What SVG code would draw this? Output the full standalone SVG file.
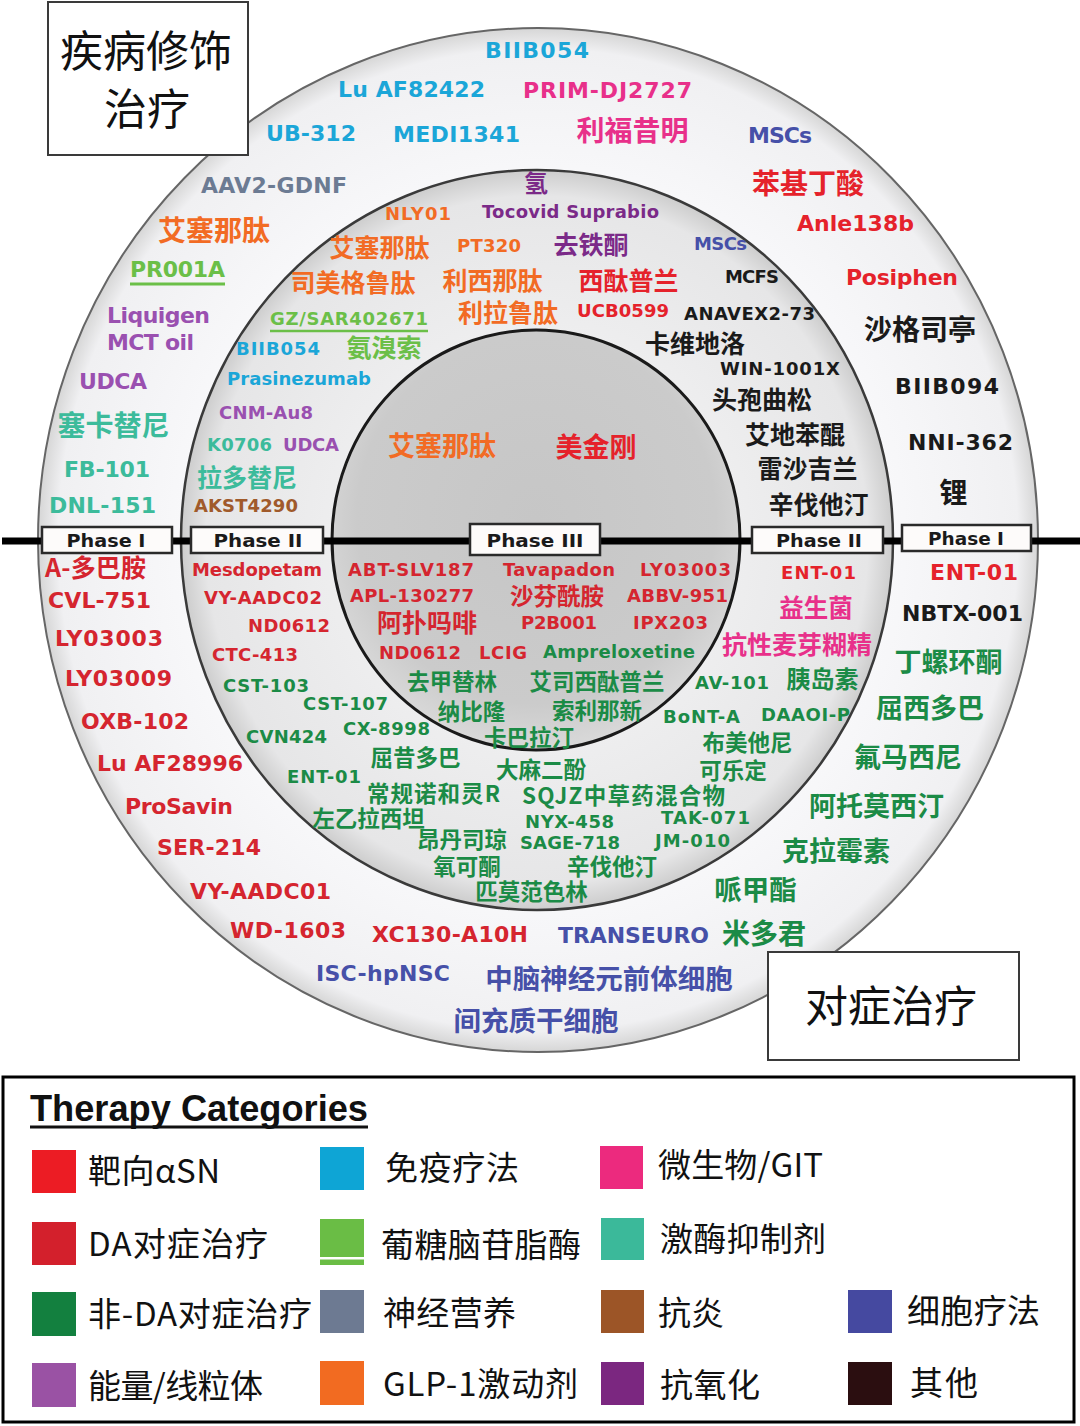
<svg xmlns="http://www.w3.org/2000/svg" width="1080" height="1426" viewBox="0 0 1080 1426">
<defs>
<style>
.l{font-family:"DejaVu Sans",Verdana,sans-serif;font-weight:bold;text-anchor:middle}
.o{font-size:22px}
.m{font-size:18px}
.c{font-family:"Noto Sans CJK SC","Noto Sans CJK JP",sans-serif;font-weight:bold;text-anchor:middle}
.s{font-size:22.5px}
.a{fill:#e5222b}.dr{fill:#d5252f}.im{fill:#1ba6d8}.mi{fill:#e8308a}.gb{fill:#6bbf48}
.ki{fill:#3cbb9b}.ng{fill:#1b8b46}.nt{fill:#6c7b93}.ai{fill:#a05a2b}.ce{fill:#4650a8}
.en{fill:#9a50b0}.gl{fill:#f26b24}.ao{fill:#7b2a88}.ot{fill:#1a1a1a}
.pb{fill:#fdfbfa;stroke:#2a2a2a;stroke-width:2.5}
.pt{font-family:"DejaVu Sans",Verdana,sans-serif;font-weight:bold;font-size:18px;fill:#1a1a1a;text-anchor:middle}
.bx{fill:#ffffff;stroke:#3a3a3a;stroke-width:2}
.bt{font-family:"Noto Sans CJK SC","Noto Sans CJK JP",sans-serif;font-size:43px;fill:#111;text-anchor:middle}
.lt{font-family:"Noto Sans CJK SC","Noto Sans CJK JP",sans-serif;font-size:33px;fill:#111}
</style>
<radialGradient id="gOuter" cx="0.5" cy="0.5" r="0.5">
<stop offset="0.7" stop-color="#f8f8fa"/>
<stop offset="0.96" stop-color="#f0f0f2"/>
<stop offset="1" stop-color="#d6d6d6"/>
</radialGradient>
<radialGradient id="gMid" cx="0.5" cy="0.5" r="0.5">
<stop offset="0.55" stop-color="#eeeeef"/>
<stop offset="0.93" stop-color="#e6e6e7"/>
<stop offset="1" stop-color="#cdcdcd"/>
</radialGradient>
<radialGradient id="gIn" cx="0.5" cy="0.45" r="0.55">
<stop offset="0" stop-color="#c6c6c6"/>
<stop offset="0.8" stop-color="#cbcbcb"/>
<stop offset="1" stop-color="#d9d9d9"/>
</radialGradient>
</defs>
<rect x="0" y="0" width="1080" height="1426" fill="#ffffff"/>

<g id="rings">
<ellipse cx="538" cy="540" rx="500" ry="512" fill="url(#gOuter)" stroke="#666" stroke-width="2"/>
<ellipse cx="537" cy="540" rx="356" ry="370" fill="url(#gMid)" stroke="#3a3a3a" stroke-width="2.5"/>
<ellipse cx="536" cy="540" rx="204" ry="210" fill="url(#gIn)" stroke="#1a1a1a" stroke-width="3"/>
</g>

<g id="connectors">
<line x1="2" y1="541" x2="1080" y2="541" stroke="#000" stroke-width="7"/>
</g>

<g id="phase-labels">
<g id="phase1-left"><rect class="pb" x="42" y="527" width="130" height="26"/><text class="pt" x="106" y="547" textLength="79" lengthAdjust="spacingAndGlyphs">Phase I</text></g>
<g id="phase2-left"><rect class="pb" x="191" y="527" width="132" height="26"/><text class="pt" x="258" y="547" textLength="89" lengthAdjust="spacingAndGlyphs">Phase II</text></g>
<g id="phase3"><rect class="pb" x="470" y="524" width="130" height="31"/><text class="pt" x="535" y="547" textLength="97" lengthAdjust="spacingAndGlyphs">Phase III</text></g>
<g id="phase2-right"><rect class="pb" x="752" y="527" width="131" height="26"/><text class="pt" x="819" y="547" textLength="86" lengthAdjust="spacingAndGlyphs">Phase II</text></g>
<g id="phase1-right"><rect class="pb" x="902" y="525" width="129" height="26"/><text class="pt" x="966" y="545" textLength="76" lengthAdjust="spacingAndGlyphs">Phase I</text></g>
</g>

<g id="box-disease-modifying">
<rect class="bx" x="48" y="2" width="200" height="153"/>
<text class="bt" x="146" y="67">疾病修饰</text>
<text class="bt" x="147" y="125">治疗</text>
</g>
<g id="box-symptomatic">
<rect class="bx" x="768" y="952" width="251" height="108"/>
<text class="bt" x="891" y="1022" font-size="44">对症治疗</text>
</g>

<g id="outer-upper">
<text class="l o im" x="537" y="58" textLength="104">BIIB054</text>
<text class="l o im" x="411.5" y="97" textLength="147">Lu AF82422</text>
<text class="l o mi" x="607.5" y="98" textLength="169">PRIM-DJ2727</text>
<text class="l o im" x="311" y="141" textLength="90">UB-312</text>
<text class="l o im" x="456.5" y="142" textLength="127">MEDI1341</text>
<text class="c mi" x="632.5" y="141" font-size="28">利福昔明</text>
<text class="l o ce" x="780" y="143" textLength="64">MSCs</text>
<text class="l o nt" x="274" y="193" textLength="146">AAV2-GDNF</text>
<text class="c a" x="808" y="194" font-size="28">苯基丁酸</text>
<text class="c gl" x="214" y="241" font-size="28">艾塞那肽</text>
<text class="l o a" x="855.5" y="231" textLength="117">Anle138b</text>
<text class="l o gb" x="177.5" y="277" textLength="95">PR001A</text>
<line x1="130" y1="284" x2="225" y2="284" stroke="#6bbf48" stroke-width="3"/>
<text class="l o a" x="902" y="285" textLength="112">Posiphen</text>
<text class="l o en" x="158.5" y="323" textLength="103">Liquigen</text>
<text class="l o en" x="150.5" y="350" textLength="87">MCT oil</text>
<text class="c ot" x="920" y="340" font-size="28">沙格司亭</text>
<text class="l o en" x="113" y="389" textLength="68">UDCA</text>
<text class="l o ot" x="947" y="394" textLength="104">BIIB094</text>
<text class="c ki" x="113.5" y="436" font-size="28">塞卡替尼</text>
<text class="l o ot" x="960.5" y="450" textLength="105">NNI-362</text>
<text class="l o ki" x="107" y="477" textLength="86">FB-101</text>
<text class="c ot" x="953.5" y="503" font-size="28">锂</text>
<text class="l o ki" x="102.5" y="513" textLength="107">DNL-151</text>
</g>

<g id="middle-upper">
<text class="c ao" x="536" y="192" font-size="24">氢</text>
<text class="l m gl" x="418" y="219.5" textLength="66">NLY01</text>
<text class="l m ao" x="570.5" y="217.5" textLength="177">Tocovid Suprabio</text>
<text class="c gl" x="379.5" y="256.5" font-size="25">艾塞那肽</text>
<text class="l m gl" x="489" y="251.5" textLength="64">PT320</text>
<text class="c ao" x="591" y="253.5" font-size="25">去铁酮</text>
<text class="l m ce" x="720.5" y="250" textLength="53" font-size="17">MSCs</text>
<text class="c gl" x="353" y="291.5" font-size="25">司美格鲁肽</text>
<text class="c gl" x="492.5" y="289.5" font-size="25">利西那肽</text>
<text class="c a" x="628.5" y="289.5" font-size="25">西酞普兰</text>
<text class="l m ot" x="752" y="282.5" textLength="54">MCFS</text>
<text class="l m gb" x="349" y="324.5" textLength="158">GZ/SAR402671</text>
<line x1="270" y1="331" x2="428" y2="331" stroke="#6bbf48" stroke-width="2.5"/>
<text class="c gl" x="508" y="321.5" font-size="25">利拉鲁肽</text>
<text class="l m a" x="623" y="316.5" textLength="92">UCB0599</text>
<text class="l m ot" x="749.5" y="319.5" textLength="131">ANAVEX2-73</text>
<text class="l m im" x="278" y="354.5" textLength="84">BIIB054</text>
<text class="c gb" x="384" y="356.5" font-size="25">氨溴索</text>
<text class="c ot" x="695" y="352.5" font-size="25">卡维地洛</text>
<text class="l m im" x="299" y="384.5" textLength="144">Prasinezumab</text>
<text class="l m ot" x="780" y="374.5" textLength="120">WIN-1001X</text>
<text class="c ot" x="762" y="408.5" font-size="25">头孢曲松</text>
<text class="l m en" x="266" y="418.5" textLength="94">CNM-Au8</text>
<text class="c ot" x="795" y="443.5" font-size="25">艾地苯醌</text>
<text class="l m ki" x="239.5" y="450.5" textLength="65">K0706</text>
<text class="l m en" x="311" y="450.5" textLength="56">UDCA</text>
<text class="c ot" x="807.5" y="477.5" font-size="25">雷沙吉兰</text>
<text class="c ki" x="247" y="486.5" font-size="25">拉多替尼</text>
<text class="l m ai" x="246" y="511.5" textLength="104">AKST4290</text>
<text class="c ot" x="818.5" y="513.5" font-size="25">辛伐他汀</text>
</g>

<g id="inner-upper">
<text class="c gl" x="442" y="456" font-size="27">艾塞那肽</text>
<text class="c a" x="596" y="457" font-size="27">美金刚</text>
</g>

<g id="outer-lower">
<text class="c dr" x="95.5" y="576.5" font-size="25" textLength="101">A-多巴胺</text>
<text class="l o dr" x="99.5" y="608" textLength="103">CVL-751</text>
<text class="l o dr" x="109" y="646" textLength="108">LY03003</text>
<text class="l o dr" x="118.5" y="686" textLength="107">LY03009</text>
<text class="l o dr" x="135" y="729" textLength="108">OXB-102</text>
<text class="l o dr" x="170" y="771" textLength="146">Lu AF28996</text>
<text class="l o dr" x="179" y="814" textLength="108">ProSavin</text>
<text class="l o dr" x="209" y="855" textLength="104">SER-214</text>
<text class="l o dr" x="260.5" y="899" textLength="141">VY-AADC01</text>
<text class="l o dr" x="288" y="938" textLength="116">WD-1603</text>
<text class="l o dr" x="450" y="942" textLength="156">XC130-A10H</text>
<text class="l o ce" x="383" y="981" textLength="134">ISC-hpNSC</text>
<text class="c ce" x="609" y="989" font-size="27.5">中脑神经元前体细胞</text>
<text class="c ce" x="536" y="1031" font-size="27.5">间充质干细胞</text>
<text class="l o ce" x="633.5" y="943" textLength="151">TRANSEURO</text>
<text class="c ng" x="764" y="944" font-size="28">米多君</text>
<text class="l o a" x="974" y="580" textLength="88">ENT-01</text>
<text class="l o ot" x="962.5" y="621" textLength="121">NBTX-001</text>
<text class="c ng" x="948.5" y="672" font-size="27">丁螺环酮</text>
<text class="c ng" x="930" y="718" font-size="27">屈西多巴</text>
<text class="c ng" x="908" y="767" font-size="27">氟马西尼</text>
<text class="c ng" x="876.5" y="816" font-size="27">阿托莫西汀</text>
<text class="c ng" x="836" y="861" font-size="27">克拉霉素</text>
<text class="c ng" x="755.5" y="900" font-size="27.5">哌甲酯</text>
</g>

<g id="middle-lower">
<text class="l m dr" x="257" y="575.5" textLength="130">Mesdopetam</text>
<text class="l m dr" x="263" y="603.5" textLength="118">VY-AADC02</text>
<text class="l m dr" x="289" y="631.5" textLength="82">ND0612</text>
<text class="l m dr" x="255" y="660.5" textLength="86">CTC-413</text>
<text class="l m ng" x="266" y="691.5" textLength="86">CST-103</text>
<text class="l m ng" x="345.5" y="709.5" textLength="85">CST-107</text>
<text class="l m ng" x="386.5" y="734.5" textLength="87">CX-8998</text>
<text class="l m ng" x="286.5" y="742.5" textLength="81">CVN424</text>
<text class="c ng s" x="415.5" y="766">屈昔多巴</text>
<text class="l m ng" x="324" y="782.5" textLength="74">ENT-01</text>
<text class="c ng s" x="433.5" y="802" textLength="133">常规诺和灵R</text>
<text class="c ng s" x="368.5" y="827">左乙拉西坦</text>
<text class="c ng s" x="462" y="848">昂丹司琼</text>
<text class="c ng s" x="467" y="874.5">氧可酮</text>
<text class="c ng s" x="531.5" y="900">匹莫范色林</text>
<text class="c ng s" x="612" y="875">辛伐他汀</text>
<text class="l m ng" x="570" y="848.5" textLength="100">SAGE-718</text>
<text class="l m ng" x="569.5" y="827.5" textLength="89">NYX-458</text>
<text class="c ng s" x="623.5" y="803.5" textLength="203">SQJZ中草药混合物</text>
<text class="c ng s" x="541" y="777.5">大麻二酚</text>
<text class="c ng s" x="529" y="746">卡巴拉汀</text>
<text class="l m ng" x="705.5" y="823.5" textLength="89">TAK-071</text>
<text class="l m ng" x="692.5" y="847" textLength="75">JM-010</text>
<text class="c ng s" x="733" y="778.5">可乐定</text>
<text class="c ng s" x="747.5" y="750.5">布美他尼</text>
<text class="l m ng" x="701.5" y="722.5" textLength="77">BoNT-A</text>
<text class="l m ng" x="805.5" y="720.5" textLength="89">DAAOI-P</text>
<text class="l m ng" x="732" y="688.5" textLength="74">AV-101</text>
<text class="c ng" x="822.5" y="688" font-size="24">胰岛素</text>
<text class="c mi" x="797" y="654" font-size="25">抗性麦芽糊精</text>
<text class="c mi" x="816" y="617" font-size="24.5">益生菌</text>
<text class="l m a" x="818.5" y="578.5" textLength="75">ENT-01</text>
</g>

<g id="inner-lower">
<text class="l m dr" x="411" y="575.5" textLength="126">ABT-SLV187</text>
<text class="l m dr" x="559" y="575.5" textLength="112">Tavapadon</text>
<text class="l m dr" x="685.5" y="575.5" textLength="91">LY03003</text>
<text class="l m dr" x="412" y="601.5" textLength="124">APL-130277</text>
<text class="c dr" x="557" y="605" font-size="23.5">沙芬酰胺</text>
<text class="l m dr" x="677.5" y="601.5" textLength="101">ABBV-951</text>
<text class="c dr" x="427" y="632" font-size="25">阿扑吗啡</text>
<text class="l m dr" x="559" y="628.5" textLength="76">P2B001</text>
<text class="l m dr" x="670.5" y="628.5" textLength="75">IPX203</text>
<text class="l m dr" x="420" y="658.5" textLength="82">ND0612</text>
<text class="l m dr" x="503" y="658.5" textLength="48">LCIG</text>
<text class="l m ng" x="619" y="657.5" textLength="152">Ampreloxetine</text>
<text class="c ng s" x="452" y="690">去甲替林</text>
<text class="c ng s" x="597" y="690">艾司西酞普兰</text>
<text class="c ng s" x="471.5" y="720">纳比隆</text>
<text class="c ng s" x="597" y="719">索利那新</text>
</g>

<g id="legend">
<rect x="3" y="1077" width="1071" height="345" fill="#ffffff" stroke="#000" stroke-width="3"/>
<text x="30" y="1121" font-family="'Liberation Sans',Arial,sans-serif" font-weight="bold" font-size="37" fill="#111" textLength="338" lengthAdjust="spacingAndGlyphs">Therapy Categories</text>
<line x1="30" y1="1127" x2="368" y2="1127" stroke="#111" stroke-width="3"/>
<g id="leg-asyn"><rect x="32" y="1150" width="44" height="43" fill="#ec1c24"/><text class="lt" x="88" y="1183" textLength="132">靶向αSN</text></g>
<g id="leg-immuno"><rect x="320" y="1147" width="44" height="43" fill="#0ea5d5"/><text class="lt" x="385" y="1180" textLength="134">免疫疗法</text></g>
<g id="leg-micro"><rect x="600" y="1146" width="43" height="43" fill="#ec2a7e"/><text class="lt" x="658" y="1177" textLength="165">微生物/GIT</text></g>
<g id="leg-da"><rect x="32" y="1222" width="44" height="43" fill="#d3202c"/><text class="lt" x="88" y="1256" textLength="180">DA对症治疗</text></g>
<g id="leg-gba"><rect x="320" y="1219" width="44" height="46" fill="#6abd45"/><rect x="320" y="1257" width="44" height="2.5" fill="#ffffff"/><text class="lt" x="381" y="1257" textLength="200">葡糖脑苷脂酶</text></g>
<g id="leg-kinase"><rect x="601" y="1218" width="43" height="42" fill="#3bb99a"/><text class="lt" x="660" y="1251" textLength="166">激酶抑制剂</text></g>
<g id="leg-nonda"><rect x="32" y="1292" width="44" height="44" fill="#13803f"/><text class="lt" x="88" y="1326" textLength="224">非-DA对症治疗</text></g>
<g id="leg-neurotroph"><rect x="320" y="1290" width="44" height="43" fill="#6d7a92"/><text class="lt" x="383" y="1325" textLength="133">神经营养</text></g>
<g id="leg-antiinfl"><rect x="601" y="1290" width="43" height="43" fill="#9c5527"/><text class="lt" x="658" y="1325" textLength="66">抗炎</text></g>
<g id="leg-cell"><rect x="848" y="1290" width="44" height="43" fill="#4549a0"/><text class="lt" x="907" y="1323" textLength="133">细胞疗法</text></g>
<g id="leg-energy"><rect x="32" y="1363" width="44" height="44" fill="#9a52a4"/><text class="lt" x="88" y="1398" textLength="175">能量/线粒体</text></g>
<g id="leg-glp1"><rect x="320" y="1361" width="44" height="44" fill="#f26b21"/><text class="lt" x="383" y="1396" textLength="195">GLP-1激动剂</text></g>
<g id="leg-antiox"><rect x="601" y="1362" width="43" height="43" fill="#7b2780"/><text class="lt" x="660" y="1397" textLength="100">抗氧化</text></g>
<g id="leg-other"><rect x="848" y="1362" width="44" height="43" fill="#2b0e10"/><text class="lt" x="910" y="1395" textLength="68">其他</text></g>
</g>
</svg>
